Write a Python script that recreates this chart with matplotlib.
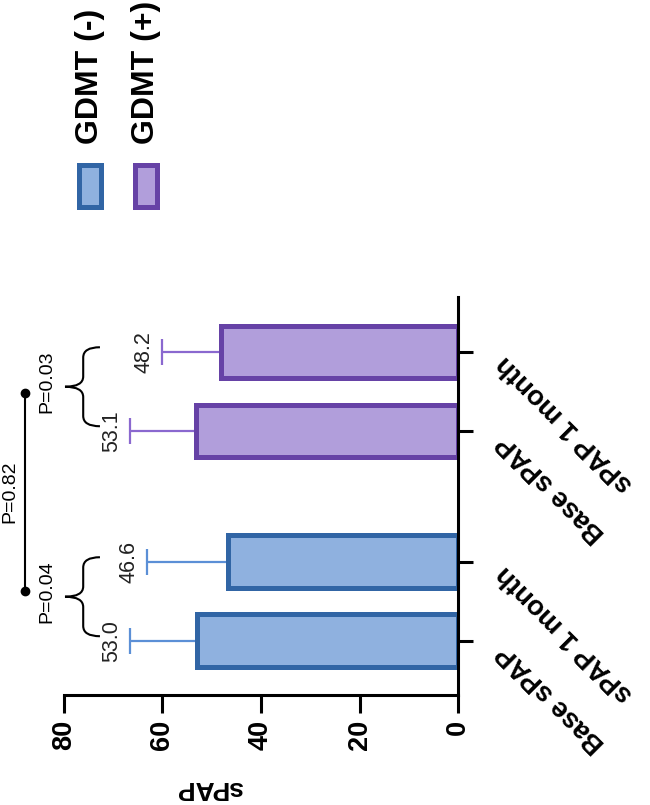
import numpy as np
import matplotlib
matplotlib.use("Agg")
import matplotlib.pyplot as plt
from matplotlib.patches import Rectangle, PathPatch
from matplotlib.path import Path

plt.rcParams['font.family'] = ['Liberation Sans', 'DejaVu Sans']

# ---- data ----
groups = ["GDMT (-)", "GDMT (+)"]
timepoints = ["Base sPAP", "sPAP 1 month"]
means_neg = [53.0, 46.6]
sd_neg = [13.6, 16.5]
means_pos = [53.1, 48.2]
sd_pos = [13.5, 11.9]
p_within = ["P=0.04", "P=0.03"]
p_between = "P=0.82"
value_ticks = [0, 20, 40, 60, 80]

fills = ["#8FB1DF", "#B19EDB"]
edges = ["#3165A5", "#6642A6"]
errcols = ["#5B8FD6", "#8A68CF"]

W, H = 650, 805
fig = plt.figure(figsize=(W / 100, H / 100), dpi=100)

def fx(px):
    return px / W

def fy(py):
    return 1 - py / H

ax = fig.add_axes([fx(64), fy(695), (458 - 64) / W, (695 - 297) / H])

group_gap = 2.658
positions = [np.array([0.0, 1.0]) + g * group_gap for g in range(len(groups))]
all_means = [means_neg, means_pos]
all_sd = [sd_neg, sd_pos]

for g in range(len(groups)):
    pos = positions[g]
    m = np.array(all_means[g])
    s = np.array(all_sd[g])
    ax.barh(pos, m, height=0.67, color=fills[g], edgecolor=edges[g], linewidth=3.6, zorder=2)
    ax.errorbar(m, pos, xerr=[np.zeros_like(s), s], fmt='none', ecolor=errcols[g],
                elinewidth=1.6, capsize=9.5, capthick=1.6, zorder=1)
    for mi, si, pi in zip(m, s, pos):
        ax.annotate(f"{mi:.1f}", xy=(mi + si, pi), xytext=(-13, 0), textcoords='offset points',
                    rotation=90, ha='center', va='center', fontsize=15.5, color='#222222',
                    annotation_clip=False)
    for lab, pi in zip(timepoints, pos):
        ax.annotate(lab, xy=(1, pi), xycoords=('axes fraction', 'data'), xytext=(24.5, -12.2),
                    textcoords='offset points', rotation=135, rotation_mode='anchor',
                    ha='right', va='top', fontsize=19.5, fontweight='bold', annotation_clip=False)

    # curly brace
    y1, y2 = pos[0] + 0.06, pos[1] + 0.06
    ym = (y1 + y2) / 2
    xa, xs, xt = 72.7, 76.1, 79.8
    r = 0.13
    verts = [(xa, y1), (xs, y1), (xs, y1 + r), (xs, ym - r), (xs, ym), (xt, ym),
             (xs, ym), (xs, ym + r), (xs, y2 - r), (xs, y2), (xa, y2)]
    codes = [Path.MOVETO, Path.CURVE3, Path.CURVE3, Path.LINETO, Path.CURVE3, Path.CURVE3,
             Path.CURVE3, Path.CURVE3, Path.LINETO, Path.CURVE3, Path.CURVE3]
    ax.add_patch(PathPatch(Path(verts, codes), fill=False, lw=1.5, color='black', clip_on=False))
    ax.text(83.5, ym + 0.06, p_within[g], rotation=90, ha='center', va='center', fontsize=14,
            clip_on=False)

# between-group line
yb = positions[0].mean() + 0.13
yp = positions[1].mean() - 0.02
ax.plot([87.9, 87.9], [yb, yp], color='black', lw=1.5, marker='o', markersize=6, clip_on=False)
ax.text(91.0, (yb + yp) / 2, p_between, rotation=90, ha='center', va='center', fontsize=14,
        clip_on=False)

ax.set_xlim(80, 0)
ax.set_ylim(-0.684, 4.354)
for sp in ['left', 'top']:
    ax.spines[sp].set_visible(False)
for sp in ['right', 'bottom']:
    ax.spines[sp].set_linewidth(2.2)
ax.yaxis.tick_right()
ax.set_yticks(np.concatenate(positions))
ax.set_yticklabels([])
ax.tick_params(axis='y', direction='out', length=11, width=2.2)
ax.set_xticks(value_ticks)
ax.set_xticklabels([str(v) for v in value_ticks], rotation=90, fontsize=19.5, fontweight='bold')
ax.tick_params(axis='x', direction='out', length=13, width=2.2, pad=5)

fig.text(fx(210), fy(788), "sPAP", rotation=180, ha='center', va='center', fontsize=19,
         fontweight='bold')

# legend
leg_x = [90, 146]
for g in range(len(groups)):
    fig.add_artist(Rectangle((fx(leg_x[g] - 11), fy(207.5)), 22 / W, 42 / H, transform=fig.transFigure,
                             facecolor=fills[g], edgecolor=edges[g], linewidth=3.6))
    fig.text(fx(leg_x[g]), fy(144), groups[g], rotation=90, ha='center', va='bottom', fontsize=23,
             fontweight='bold')

fig.savefig("out.png", dpi=100)
